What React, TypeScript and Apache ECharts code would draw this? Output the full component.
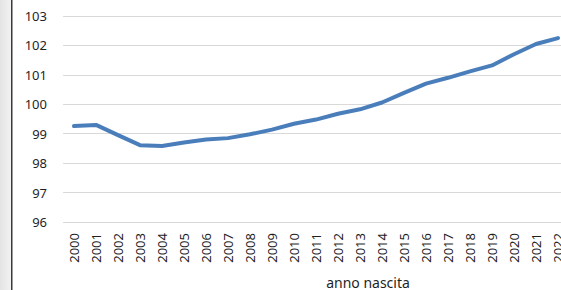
import React, { useEffect, useRef } from "react";
import * as echarts from "echarts";

const years = ["2000","2001","2002","2003","2004","2005","2006","2007","2008","2009","2010","2011","2012","2013","2014","2015","2016","2017","2018","2019","2020","2021","2022"];
const values = [99.26, 99.3, 98.95, 98.61, 98.58, 98.7, 98.8, 98.85, 98.98, 99.14, 99.34, 99.48, 99.68, 99.83, 100.06, 100.39, 100.7, 100.9, 101.12, 101.32, 101.7, 102.05, 102.25];
const yMin = 96;
const yMax = 103;
const axisTitle = "anno nascita";

export default function App() {
  const ref = useRef<HTMLDivElement>(null);
  useEffect(() => {
    if (!ref.current) return;
    const chart = echarts.init(ref.current, null, { renderer: "svg" });
    chart.setOption({
      animation: false,
      backgroundColor: "#ffffff",
      textStyle: { fontFamily: "Noto Sans" },
      grid: { left: 63, top: 16, width: 506, height: 206, containLabel: false },
      xAxis: {
        type: "category",
        data: years,
        boundaryGap: true,
        axisLine: { show: false },
        axisTick: { show: false },
        axisLabel: { rotate: 90, margin: 11, fontSize: 13, color: "#1f1f1f", fontFamily: "Noto Sans" },
      },
      yAxis: {
        type: "value",
        min: yMin,
        max: yMax,
        interval: 1,
        axisLine: { show: false },
        axisTick: { show: false },
        splitLine: { lineStyle: { color: "#d9d9d9", width: 1 } },
        axisLabel: { margin: 16, fontSize: 13, color: "#1f1f1f", fontFamily: "Noto Sans" },
      },
      graphic: [
        {
          type: "rect",
          shape: { x: 0, y: 0, width: 11, height: 290 },
          style: {
            fill: new echarts.graphic.LinearGradient(0, 0, 1, 0, [
              { offset: 0, color: "#e4e4e4" },
              { offset: 1, color: "#f2f2f2" },
            ]),
          },
          silent: true,
        },
        {
          type: "rect",
          shape: { x: 11, y: 0, width: 1.5, height: 290 },
          style: { fill: "#3a3a3a" },
          silent: true,
        },
        {
          type: "text",
          x: 368,
          y: 282,
          style: {
            text: axisTitle,
            fontSize: 14,
            fill: "#1f1f1f",
            fontFamily: "Noto Sans",
            align: "center",
            verticalAlign: "middle",
          },
        },
      ],
      series: [
        {
          type: "line",
          data: values,
          symbol: "none",
          lineStyle: { color: "#4a7ebb", width: 4, cap: "round", join: "round" },
        },
      ],
    });
    return () => chart.dispose();
  }, []);
  return (
    <div style={{ position: "fixed", left: 0, top: 0, width: 561, height: 290, overflow: "hidden", background: "#fff" }}>
      <div ref={ref} style={{ width: 600, height: 290 }} />
    </div>
  );
}
